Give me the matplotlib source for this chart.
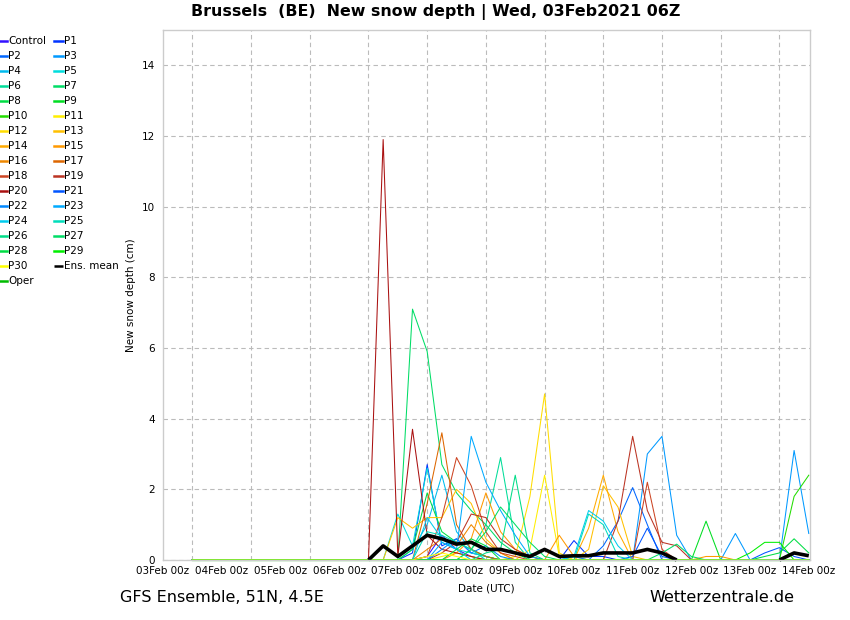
import matplotlib
matplotlib.use("Agg")
import matplotlib.pyplot as plt
import matplotlib.dates as mdates
import pandas as pd
import numpy as np

times = pd.date_range("2021-02-03 12:00", "2021-02-14 00:00", freq="6h")

member_names = ["Control"] + [f"P{i}" for i in range(1, 31)]

control = [0,0,0,0,0,0,0,0,0,0,0,0, 0,0,0,0,0.1,0.7,0.3,0.1,0,0,0,0,0,0,0,0,0,0,0,0,0,0,0,0,0,0,0,0,0,0,0]
p1  = [0,0,0,0,0,0,0,0,0,0,0,0, 0,0,0,0.2,2.7,0.4,0.6,0.2,0.1,0,0,0,0,0,0.55,0.1,0.1,0,0,0,0,0,0,0,0,0,0,0,0,0,0]
p2  = [0,0,0,0,0,0,0,0,0,0,0,0, 0,0,0,0,0,0,0,0,0,0,0,0,0,0,0,0,0.4,1.1,2.05,1.0,0,0,0,0,0,0,0,0,0,0,0]
p3  = [0,0,0,0,0,0,0,0,0,0,0,0, 0,0,0,0,0,0,0,0,0,0,0,0,0,0,0,0,0,0,0,3.0,3.5,0.7,0,0,0,0.75,0,0,0,3.1,0.75]
p4  = [0,0,0,0,0,0,0,0,0,0,0,0, 0,0,0,0.3,1.0,2.4,0.8,0.3,0.1,0,0,0,0,0,0,0,0,0,0,0,0,0,0,0,0,0,0,0,0,0,0]
p5  = [0,0,0,0,0,0,0,0,0,0,0,0, 0,0,1.3,0.4,2.6,0.5,0.3,0.2,0.1,0,0,0,0,0,0,0,0,0,0,0,0,0,0,0,0,0,0,0,0,0,0]
p6  = [0,0,0,0,0,0,0,0,0,0,0,0, 0,0,0,0,0,0,0,0.3,1.0,2.9,0.5,0,0,0,0,0,0,0,0,0,0,0,0,0,0,0,0,0,0,0,0]
p7  = [0,0,0,0,0,0,0,0,0,0,0,0, 0,0,0,7.1,5.9,2.7,1.9,1.4,1.0,0.5,0.2,0,0,0,0,0,0,0,0,0,0,0,0,0,0,0,0,0,0,0,0]
p8  = [0,0,0,0,0,0,0,0,0,0,0,0, 0,0,0,0.3,1.9,0.8,0.5,0.3,0.1,0,0,0,0,0,0,0,0,0,0,0,0,0,0,0,0,0,0,0,0,0,0]
p9  = [0,0,0,0,0,0,0,0,0,0,0,0, 0,0,0,0,0,0,0,0,0,0,0,0,0,0,0,0,0,0,0,0,0,0,0,1.1,0,0,0,0,0,0,0]
p10 = [0,0,0,0,0,0,0,0,0,0,0,0, 0,0,0,0,0,0,0,0,0,0,0,0,0,0,0,0,0,0,0,0,0,0,0,0,0,0,0,0,0,1.8,2.4]
p11 = [0,0,0,0,0,0,0,0,0,0,0,0, 0,0,0,0,0,0.1,0.2,0.1,0,0,0,0.3,2.4,0.1,0,0,0,0,0,0,0,0,0,0,0,0,0,0,0,0,0]
p12 = [0,0,0,0,0,0,0,0,0,0,0,0, 0,0,0,0,0,0,0,0,0,0,0.1,1.8,4.7,0.2,0,0,0,0,0,0,0,0,0,0,0,0,0,0,0,0,0]
p13 = [0,0,0,0,0,0,0,0,0,0,0,0, 0,0,1.2,0.9,1.2,1.2,2.0,1.6,0.6,0.2,0,0,0,0,0,0.3,2.1,1.5,0.1,0,0,0,0,0,0,0,0,0,0,0,0]
p14 = [0,0,0,0,0,0,0,0,0,0,0,0, 0,0,0,0,0,0,0,0,0,0,0,0,0,0,0,0.9,2.4,0.8,0,0,0,0,0,0,0,0,0,0,0,0,0]
p15 = [0,0,0,0,0,0,0,0,0,0,0,0, 0,0,0,0,0,0,0.2,0.6,1.9,0.8,0.3,0.1,0,0.7,0.1,0,0,0,0,0,0,0,0,0.1,0.1,0,0,0,0,0,0]
p16 = [0,0,0,0,0,0,0,0,0,0,0,0, 0,0,0,0,0.3,0.6,0.4,1.0,0.5,0.2,0,0,0,0,0,0,0,0,0,0,0,0,0,0,0,0,0,0,0,0,0]
p17 = [0,0,0,0,0,0,0,0,0,0,0,0, 0,0,0,0,1.6,3.6,1.0,0.3,0.1,0,0,0,0,0,0,0,0,0,0,0,0,0,0,0,0,0,0,0,0,0,0]
p18 = [0,0,0,0,0,0,0,0,0,0,0,0, 0,0,0,0,0.1,1.2,2.9,2.1,0.8,0.2,0.1,0,0,0,0,0,0,0,0,2.2,0.3,0,0,0,0,0,0,0,0,0,0]
p19 = [0,0,0,0,0,0,0,0,0,0,0,0, 0,0,0,0,0,0.2,0.5,1.3,1.2,0.6,0.3,0.1,0,0,0,0,0,1.1,3.5,1.4,0.5,0.4,0,0,0,0,0,0,0,0,0]
p20 = [0,0,0,0,0,0,0,0,0,0,0,0, 0,11.9,0.1,3.7,0.7,0.3,0.2,0.1,0,0,0,0,0,0,0,0,0,0,0,0,0,0,0,0,0,0,0,0,0,0,0]
p21 = [0,0,0,0,0,0,0,0,0,0,0,0, 0,0,0,0,0,0,0,0,0,0,0,0,0,0,0,0,0,0,0.1,0.9,0.1,0,0,0,0,0,0,0.2,0.35,0.1,0]
p22 = [0,0,0,0,0,0,0,0,0,0,0,0, 0,0,0,0,0,0.3,0.6,0.2,0.4,0.1,0,0,0,0,0.1,0,0,0,0,0,0,0,0,0,0,0,0,0,0,0,0]
p23 = [0,0,0,0,0,0,0,0,0,0,0,0, 0,0,0,0,0,0.5,0.3,3.5,2.2,1.4,0.7,0.1,0,0,0,0,0,0,0,0,0,0,0,0,0,0,0,0,0,0,0]
p24 = [0,0,0,0,0,0,0,0,0,0,0,0, 0,0,0,0,1.2,0.6,0.3,0,0,0,0,0,0,0,0.1,1.4,1.1,0.4,0,0,0,0,0,0,0,0,0,0,0,0,0]
p25 = [0,0,0,0,0,0,0,0,0,0,0,0, 0,0,0,0,0.8,0.7,0.5,0.3,0,0,0,0,0,0,0,1.3,1.0,0.1,0,0,0,0,0,0,0,0,0,0,0,0,0]
p26 = [0,0,0,0,0,0,0,0,0,0,0,0, 0,0,0,0,0,0,0,0,0.2,0.3,2.4,0.2,0,0,0,0,0,0,0,0,0,0,0,0,0,0,0,0,0,0,0]
p27 = [0,0,0,0,0,0,0,0,0,0,0,0, 0,0,0,0,0,0,0,0.3,0.8,1.5,1.0,0.5,0.1,0,0,0,0,0,0,0,0.2,0.45,0.1,0,0,0,0,0,0,0,0]
p28 = [0,0,0,0,0,0,0,0,0,0,0,0, 0,0,0,0,0,0,0.3,0.6,0.4,0,0,0,0,0,0,0,0,0,0,0,0,0,0,0,0,0,0,0.1,0.2,0.6,0.2]
p29 = [0,0,0,0,0,0,0,0,0,0,0,0, 0,0,0,0,0,0,0,0,0,0,0,0,0,0,0,0,0,0,0,0,0,0,0,0,0,0,0.2,0.5,0.5,0,0]
p30 = [0,0,0,0,0,0,0,0,0,0,0,0, 0,0,0,0,0.1,0.2,0.1,0,0,0,0,0,0,0,0,0,0,0,0,0,0,0,0,0,0,0,0,0,0,0,0]
oper = [0]*43
ens_mean = [None]*12 + [0,0.4,0.1,0.4,0.7,0.6,0.45,0.5,0.3,0.3,0.2,0.1,0.3,0.1,0.12,0.12,0.2,0.2,0.2,0.3,0.2,0.0,
                        None,None,None,None,None,None,0.0,0.2,0.12]

members = [control, p1, p2, p3, p4, p5, p6, p7, p8, p9, p10, p11, p12, p13, p14, p15,
           p16, p17, p18, p19, p20, p21, p22, p23, p24, p25, p26, p27, p28, p29, p30]

colors = ["#3311ff", "#0033ff", "#0066ff", "#0099ff", "#00bbee", "#00dddd", "#00dd99",
          "#00dd66", "#00dd44", "#00dd22", "#22dd00", "#ffee00", "#ffdd00", "#ffc000",
          "#ffaa00", "#ff9900", "#ee8800", "#dd6600", "#cc4422", "#bb3322", "#aa1111",
          "#0055ff", "#0088ff", "#00aaff", "#00ccee", "#00ddbb", "#00dd88", "#00dd66",
          "#00dd44", "#00ee00", "#ffff00"]

fig = plt.figure(figsize=(8.5, 6.2), dpi=100)
ax = fig.add_axes([163/850, 1-560/620, (810-163)/850, 530/620])

handles = {}
for name, vals, c in zip(member_names, members, colors):
    y = np.array(vals, dtype=float)
    h, = ax.plot(times, y, color=c, lw=0.75, clip_on=False)
    handles[name] = h
h, = ax.plot(times, np.array(oper, dtype=float), color="#00bb00", lw=0.9, clip_on=False)
handles["Oper"] = h
em = np.array([np.nan if v is None else v for v in ens_mean], dtype=float)
h, = ax.plot(times, em, color="black", lw=2.6, clip_on=False, solid_capstyle="butt")
handles["Ens. mean"] = h

ax.set_xlim(pd.Timestamp("2021-02-03 00:00"), pd.Timestamp("2021-02-14 00:30"))
ax.set_ylim(0, 15)
ax.xaxis.set_major_locator(mdates.DayLocator())
ax.xaxis.set_minor_locator(mdates.HourLocator(byhour=[0, 12]))
ax.xaxis.set_major_formatter(mdates.DateFormatter("%d%b %Hz"))
ax.set_yticks(range(0, 16, 2))
ax.grid(True, which="minor", axis="x", color="#bbbbbb", lw=0.8, ls=(0, (4, 3)))
ax.grid(True, which="major", axis="y", color="#bbbbbb", lw=0.8, ls=(0, (4, 3)))
ax.set_axisbelow(True)
for s in ax.spines.values():
    s.set_color("#cccccc")
    s.set_linewidth(1.0)
ax.tick_params(axis="both", which="both", length=0, labelsize=7.5)
ax.tick_params(axis="x", pad=4)
ax.tick_params(axis="y", pad=6)

ax.set_ylabel("New snow depth (cm)", fontsize=7.5)
ax.yaxis.set_label_coords(-0.042, 0.5)
ax.set_xlabel("Date (UTC)", fontsize=7.5)
ax.xaxis.set_label_coords(0.5, -0.045)

fig.text(0.5124, 1-12/620, "Brussels  (BE)  New snow depth | Wed, 03Feb2021 06Z",
         ha="center", va="center", fontsize=11.4, fontweight="bold")
fig.text(120/850, 1-598/620, "GFS Ensemble, 51N, 4.5E", ha="left", va="center", fontsize=11.5)
fig.text(721.5/850, 1-598/620, "Wetterzentrale.de", ha="center", va="center", fontsize=11.5)

all_names = member_names + ["Ens. mean", "Oper"]
col1 = all_names[0::2]
col2 = all_names[1::2]
order = col1 + col2
leg = fig.legend([handles[n] for n in order], order, loc="upper left",
                 bbox_to_anchor=(-0.002, 0.9415), ncol=2, frameon=False, fontsize=7.5,
                 handlelength=0.85, handletextpad=0.1, columnspacing=0.75,
                 labelspacing=0.48, borderpad=0, borderaxespad=0)
for lh in leg.get_lines():
    lh.set_linewidth(1.8)

fig.savefig("out.png", dpi=100)
